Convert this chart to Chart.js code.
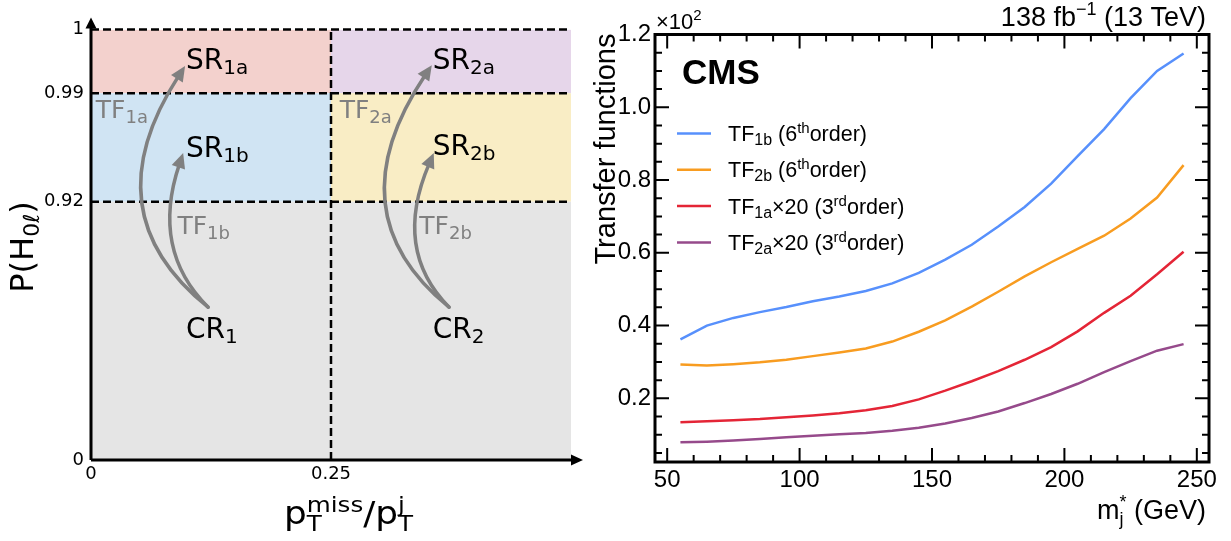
<!DOCTYPE html>
<html><head><meta charset="utf-8">
<script src="https://cdn.jsdelivr.net/npm/chart.js@4.4.1/dist/chart.umd.min.js"></script>
<style>
html,body{margin:0;padding:0;background:#fff;}
#wrap{position:relative;width:1231px;height:541px;overflow:hidden;background:#fff;}
.box{position:absolute;top:0;height:541px;}
</style></head><body>
<div id="wrap">
  <div class="box" style="left:0;width:585px"><canvas id="left"></canvas></div>
  <div class="box" style="left:585px;width:646px"><canvas id="right"></canvas></div>
</div>
<script>
// ================= DATA =================
// Right panel: transfer functions vs m_j* (GeV)
const massGeV = [55,65,75,85,95,105,115,125,135,145,155,165,175,185,195,205,215,225,235,245];
const tf1b    = [0.362,0.400,0.421,0.437,0.451,0.467,0.480,0.495,0.516,0.545,0.581,0.622,0.672,0.726,0.790,0.866,0.940,1.025,1.100,1.148];
const tf2b    = [0.293,0.290,0.294,0.299,0.306,0.316,0.326,0.337,0.356,0.383,0.414,0.452,0.493,0.535,0.574,0.611,0.647,0.694,0.752,0.841];
const tf1a20  = [0.134,0.137,0.140,0.143,0.148,0.153,0.159,0.167,0.179,0.197,0.221,0.247,0.275,0.306,0.341,0.384,0.435,0.482,0.541,0.603];
const tf2a20  = [0.079,0.081,0.084,0.088,0.093,0.097,0.101,0.105,0.111,0.119,0.131,0.146,0.164,0.187,0.212,0.240,0.272,0.302,0.331,0.349];
const seriesNames = ['TF1b (6th order)','TF2b (6th order)','TF1a×20 (3rd order)','TF2a×20 (3rd order)'];
const xTicksRight = [50,100,150,200,250];
const yTicksRight = [0.2,0.4,0.6,0.8,1.0,1.2];

// Left panel: region map in (pTmiss/pTj, P(H0l))
const regionNames = ['CR','SR1b','SR2b','SR1a','SR2a'];
const regionX0 = [0,    0,    0.25, 0,    0.25];
const regionX1 = [0.5,  0.25, 0.5,  0.25, 0.5];
const regionY0 = [0,    0.92, 0.92, 0.99, 0.99];
const regionY1 = [0.92, 0.99, 0.99, 1,    1];
const cutsY = [0.92, 0.99, 1];
const cutsX = [0.25];
const xTicksLeft = [0, 0.25];
const xTickLabelsLeft = ['0', '0.25'];
const yTicksLeft = [0, 0.92, 0.99, 1];
const yTickLabelsLeft = ['0', '0.92', '0.99', '1'];
const regionLabelText = [['SR','1a'],['SR','1b'],['SR','2a'],['SR','2b'],['CR','1'],['CR','2']];
const tfLabelText = [['TF','1a'],['TF','1b'],['TF','2a'],['TF','2b']];

// ================= STYLE / LAYOUT =================
const regionColors = ['#e5e5e5','#d0e4f3','#f9edc5','#f3d1cd','#e6d6ea'];
const seriesColors = ['#5790fc','#f89c20','#e42536','#964a8b'];
const yBreakFrac = [0, 0.6, 0.852, 1];     // schematic (non-linear) placement of the P(H0l) cuts
const regionLabelPos = [[0.198,0.908],[0.198,0.704],[0.712,0.909],[0.712,0.708],[0.198,0.283],[0.712,0.283]];
const tfLabelPos = [[0.010,0.794],[0.180,0.525],[0.518,0.794],[0.684,0.525]];
const arrowPaths = [ // [start, control, end] in chart-area fractions
  [[0.244,0.355],[-0.002,0.574],[0.196,0.915]],
  [[0.244,0.355],[0.124,0.488],[0.192,0.713]],
  [[0.746,0.355],[0.504,0.574],[0.710,0.917]],
  [[0.746,0.355],[0.628,0.488],[0.714,0.713]]
];
const DV = 'DejaVu Sans';
const LS = 'Liberation Sans';

// ================= HELPERS =================
function drawRich(ctx, parts, x, y, align, sx) {
  sx = sx || 1;
  let w = 0, prevStart = 0, prevW = 0;
  const pos = [];
  for (const p of parts) {
    ctx.font = p.font;
    const pw = ctx.measureText(p.t).width;
    if (p.stack) {
      pos.push(prevStart);
      const nw = Math.max(prevW, pw);
      w = prevStart + nw; prevW = nw;
    } else {
      pos.push(w); prevStart = w; prevW = pw; w += pw;
    }
  }
  const off = align === 'right' ? -w : (align === 'center' ? -w / 2 : 0);
  ctx.save();
  ctx.translate(x, y);
  ctx.scale(sx, 1);
  ctx.textAlign = 'left';
  parts.forEach((p, i) => {
    ctx.font = p.font;
    if (p.color) ctx.fillStyle = p.color;
    ctx.fillText(p.t, off + pos[i], (p.dy || 0));
  });
  ctx.restore();
  return w * sx;
}

// Piecewise schematic scale for P(H0l)
class PiecewiseScale extends Chart.LinearScale {
  getPixelForValue(v) {
    if (v === null || v === undefined) return NaN;
    return this.getPixelForDecimal(this._frac(v));
  }
  getValueForPixel(p) {
    const d = this.getDecimalForPixel(p);
    for (let i = 1; i < yBreakFrac.length; i++) {
      if (d <= yBreakFrac[i]) {
        const t = (d - yBreakFrac[i-1]) / (yBreakFrac[i] - yBreakFrac[i-1]);
        return yTicksLeft[i-1] + t * (yTicksLeft[i] - yTicksLeft[i-1]);
      }
    }
    return 1;
  }
  _frac(v) {
    const b = yTicksLeft;
    if (v <= b[0]) return yBreakFrac[0];
    for (let i = 1; i < b.length; i++) {
      if (v <= b[i]) {
        const t = (v - b[i-1]) / (b[i] - b[i-1]);
        return yBreakFrac[i-1] + t * (yBreakFrac[i] - yBreakFrac[i-1]);
      }
    }
    return yBreakFrac[yBreakFrac.length - 1];
  }
}
PiecewiseScale.id = 'piecewise';
PiecewiseScale.defaults = Chart.LinearScale.defaults;
Chart.register(PiecewiseScale);

// ================= LEFT CHART =================
const leftDatasets = [];
cutsY.forEach(c => leftDatasets.push({
  data: [{x: 0, y: c}, {x: 0.5, y: c}], borderColor: '#000', borderWidth: 2.5,
  borderDash: [8, 4], pointRadius: 0, fill: false, order: 0, clip: false
}));
cutsX.forEach(c => leftDatasets.push({
  data: [{x: c, y: 0}, {x: c, y: 1}], borderColor: '#000', borderWidth: 2.5,
  borderDash: [8, 4], pointRadius: 0, fill: false, order: 0, clip: false
}));
regionNames.forEach((n, i) => leftDatasets.push({
  label: n,
  data: [{x: regionX0[i], y: regionY1[i]}, {x: regionX1[i], y: regionY1[i]}],
  borderColor: 'rgba(0,0,0,0)', borderWidth: 0, pointRadius: 0,
  backgroundColor: regionColors[i], fill: {value: regionY0[i]}, order: 1
}));

const leftDeco = {
  id: 'leftDeco',
  afterDatasetsDraw(chart) {
    const ctx = chart.ctx, a = chart.chartArea;
    const fx = f => a.left + f * (a.right - a.left);
    const fy = f => a.bottom - f * (a.bottom - a.top);
    // arrows
    ctx.save();
    ctx.strokeStyle = '#808080'; ctx.fillStyle = '#808080'; ctx.lineWidth = 3.5; ctx.lineCap = 'round';
    arrowPaths.forEach(([s, c, e]) => {
      const S = [fx(s[0]), fy(s[1])], C = [fx(c[0]), fy(c[1])], E = [fx(e[0]), fy(e[1])];
      let dx = E[0] - C[0], dy = E[1] - C[1]; const L = Math.hypot(dx, dy); dx /= L; dy /= L;
      const hl = 15, hw = 7;
      const B = [E[0] - dx * hl * 0.8, E[1] - dy * hl * 0.8];
      ctx.beginPath(); ctx.moveTo(S[0], S[1]); ctx.quadraticCurveTo(C[0], C[1], B[0], B[1]); ctx.stroke();
      ctx.beginPath();
      ctx.moveTo(E[0], E[1]);
      ctx.lineTo(E[0] - dx * hl - dy * hw, E[1] - dy * hl + dx * hw);
      ctx.lineTo(E[0] - dx * hl + dy * hw, E[1] - dy * hl - dx * hw);
      ctx.closePath(); ctx.fill();
    });
    ctx.restore();
    // region labels
    ctx.save();
    ctx.fillStyle = '#000';
    regionLabelText.forEach((t, i) => {
      const p = regionLabelPos[i];
      drawRich(ctx, [{t: t[0], font: `28px "${DV}"`}, {t: t[1], font: `20px "${DV}"`, dy: 5}], fx(p[0]), fy(p[1]), 'left');
    });
    ctx.fillStyle = '#808080';
    tfLabelText.forEach((t, i) => {
      const p = tfLabelPos[i];
      drawRich(ctx, [{t: t[0], font: `25px "${DV}"`}, {t: t[1], font: `18px "${DV}"`, dy: 5}], fx(p[0]), fy(p[1]), 'left');
    });
    ctx.restore();
    // axes with arrowheads
    ctx.save();
    ctx.strokeStyle = '#000'; ctx.fillStyle = '#000'; ctx.lineWidth = 3;
    ctx.beginPath(); ctx.moveTo(a.left, a.bottom); ctx.lineTo(a.right + 2, a.bottom); ctx.stroke();
    ctx.beginPath(); ctx.moveTo(a.left, a.bottom); ctx.lineTo(a.left, a.top - 2); ctx.stroke();
    ctx.beginPath(); ctx.moveTo(a.right + 12, a.bottom); ctx.lineTo(a.right, a.bottom - 5.5); ctx.lineTo(a.right, a.bottom + 5.5); ctx.closePath(); ctx.fill();
    ctx.beginPath(); ctx.moveTo(a.left, a.top - 12); ctx.lineTo(a.left - 5.5, a.top - 1); ctx.lineTo(a.left + 5.5, a.top - 1); ctx.closePath(); ctx.fill();
    ctx.restore();
    // axis titles
    ctx.save();
    ctx.fillStyle = '#000';
    drawRich(ctx, [
      {t: 'p', font: `32px "${DV}"`},
      {t: 'T', font: `22px "${DV}"`, dy: 7},
      {t: 'miss', font: `22px "${DV}"`, dy: -12, stack: true},
      {t: '/p', font: `32px "${DV}"`},
      {t: 'T', font: `22px "${DV}"`, dy: 7},
      {t: 'j', font: `22px "${DV}"`, dy: -12, stack: true}
    ], 284, 524, 'left', 1.12);
    ctx.translate(33, 247);
    ctx.rotate(-Math.PI / 2);
    drawRich(ctx, [
      {t: 'P(H', font: `32px "${DV}"`},
      {t: '0ℓ', font: `22px "${DV}"`, dy: 6},
      {t: ')', font: `32px "${DV}"`}
    ], 0, 0, 'center');
    ctx.restore();
  }
};

new Chart(document.getElementById('left'), {
  type: 'line',
  data: {datasets: leftDatasets},
  options: {
    responsive: true, maintainAspectRatio: false, animation: false,
    layout: {padding: {top: 29.5, right: 14, bottom: 0, left: 0}},
    plugins: {legend: {display: false}, tooltip: {enabled: false}},
    scales: {
      x: {
        type: 'linear', min: 0, max: 0.5,
        grid: {display: false, drawTicks: false}, border: {display: false},
        afterBuildTicks: s => { s.ticks = xTicksLeft.map(v => ({value: v})); },
        afterFit: s => { s.height = 81; },
        ticks: {
          autoSkip: false, maxRotation: 0, padding: 4, color: '#000',
          font: {family: DV, size: 18},
          callback: v => xTickLabelsLeft[xTicksLeft.indexOf(v)]
        }
      },
      y: {
        type: 'piecewise', min: 0, max: 1,
        grid: {display: false, drawTicks: false}, border: {display: false},
        afterBuildTicks: s => { s.ticks = yTicksLeft.map(v => ({value: v})); },
        afterFit: s => { s.width = 91; },
        ticks: {
          autoSkip: false, padding: 7, color: '#000',
          font: {family: DV, size: 18},
          callback: v => yTickLabelsLeft[yTicksLeft.indexOf(v)]
        }
      }
    }
  },
  plugins: [leftDeco]
});

// ================= RIGHT CHART =================
const seriesValues = [tf1b, tf2b, tf1a20, tf2a20];
const legendRich = [
  [['TF',0],['1b',1],[' (6',0],['th',2],['order)',0]],
  [['TF',0],['2b',1],[' (6',0],['th',2],['order)',0]],
  [['TF',0],['1a',1],['×20 (3',0],['rd',2],['order)',0]],
  [['TF',0],['2a',1],['×20 (3',0],['rd',2],['order)',0]]
];

const rightDeco = {
  id: 'rightDeco',
  afterDatasetsDraw(chart) {
    const ctx = chart.ctx, a = chart.chartArea;
    const xs = chart.scales.x, ys = chart.scales.y;
    ctx.save();
    ctx.strokeStyle = '#000';
    // inward ticks on all four sides
    ctx.lineWidth = 2;
    const xMinor = [], yMinor = [];
    for (let v = 50; v <= 250; v += 10) xMinor.push(v);
    for (let k = 1; k <= 23; k++) yMinor.push(k * 0.05);
    ctx.beginPath();
    xMinor.forEach(v => {
      const major = xTicksRight.includes(v);
      const len = major ? 14 : 7, p = xs.getPixelForValue(v);
      ctx.moveTo(p, a.bottom); ctx.lineTo(p, a.bottom - len);
      ctx.moveTo(p, a.top); ctx.lineTo(p, a.top + len);
    });
    yMinor.forEach(v => {
      const major = yTicksRight.some(t => Math.abs(t - v) < 1e-6);
      const len = major ? 14 : 7, p = ys.getPixelForValue(v);
      if (p < a.top - 0.5 || p > a.bottom) return;
      ctx.moveTo(a.left, p); ctx.lineTo(a.left + len, p);
      ctx.moveTo(a.right, p); ctx.lineTo(a.right - len, p);
    });
    ctx.stroke();
    // frame
    ctx.lineWidth = 3;
    ctx.strokeRect(a.left, a.top, a.right - a.left, a.bottom - a.top);
    ctx.restore();

    // legend
    ctx.save();
    chart.data.datasets.forEach((ds, i) => {
      const yc = a.top + 99 + i * 36.3;
      ctx.strokeStyle = ds.borderColor; ctx.lineWidth = 2.5;
      ctx.beginPath(); ctx.moveTo(a.left + 22, yc); ctx.lineTo(a.left + 56, yc); ctx.stroke();
      ctx.fillStyle = '#000';
      const parts = legendRich[i].map(([t, k]) => k === 0 ? {t, font: `21.5px "${LS}"`}
        : k === 1 ? {t, font: `16px "${LS}"`, dy: 4} : {t, font: `15px "${LS}"`, dy: -8});
      drawRich(ctx, parts, a.left + 73, yc + 7.5, 'left');
    });
    ctx.restore();

    // texts
    ctx.save();
    ctx.fillStyle = '#000';
    ctx.font = `bold 35px "${LS}"`;
    ctx.fillText('CMS', a.left + 27, a.top + 49);
    drawRich(ctx, [{t: '138 fb', font: `27px "${LS}"`}, {t: '−1', font: `18px "${LS}"`, dy: -11},
                   {t: ' (13 TeV)', font: `27px "${LS}"`}], a.right - 3, 26, 'right');
    drawRich(ctx, [{t: '×10', font: `22px "${LS}"`}, {t: '2', font: `15px "${LS}"`, dy: -9}], a.left + 1, 29, 'left');
    drawRich(ctx, [{t: 'm', font: `27px "${LS}"`}, {t: 'j', font: `18px "${LS}"`, dy: 6},
                   {t: '*', font: `18px "${LS}"`, dy: -11, stack: true},
                   {t: ' (GeV)', font: `27px "${LS}"`}], a.right - 3, 519, 'right');
    ctx.translate(a.left - 40, a.top - 1);
    ctx.rotate(-Math.PI / 2);
    drawRich(ctx, [{t: 'Transfer functions', font: `29px "${LS}"`}], 0, 0, 'right');
    ctx.restore();
  }
};

new Chart(document.getElementById('right'), {
  type: 'line',
  data: {
    datasets: seriesValues.map((vals, i) => ({
      label: seriesNames[i],
      data: massGeV.map((m, j) => ({x: m, y: vals[j]})),
      borderColor: seriesColors[i], borderWidth: 2.5, pointRadius: 0, fill: false, tension: 0
    }))
  },
  options: {
    responsive: true, maintainAspectRatio: false, animation: false,
    layout: {padding: {top: 34.5, right: 22, bottom: 0, left: 0}},
    plugins: {legend: {display: false}, tooltip: {enabled: false}},
    scales: {
      x: {
        type: 'linear', min: 45.4, max: 254.6,
        grid: {display: false, drawTicks: false}, border: {display: false},
        afterBuildTicks: s => { s.ticks = xTicksRight.map(v => ({value: v})); },
        afterFit: s => { s.height = 79; },
        ticks: {autoSkip: false, maxRotation: 0, padding: 4, color: '#000',
                font: {family: LS, size: 24}, callback: v => String(v)}
      },
      y: {
        type: 'linear', min: 0.025, max: 1.2,
        grid: {display: false, drawTicks: false}, border: {display: false},
        afterBuildTicks: s => { s.ticks = yTicksRight.map(v => ({value: v})); },
        afterFit: s => { s.width = 70; },
        ticks: {autoSkip: false, padding: 4, color: '#000',
                font: {family: LS, size: 24}, callback: v => v.toFixed(1)}
      }
    }
  },
  plugins: [rightDeco]
});
</script>
</body></html>
